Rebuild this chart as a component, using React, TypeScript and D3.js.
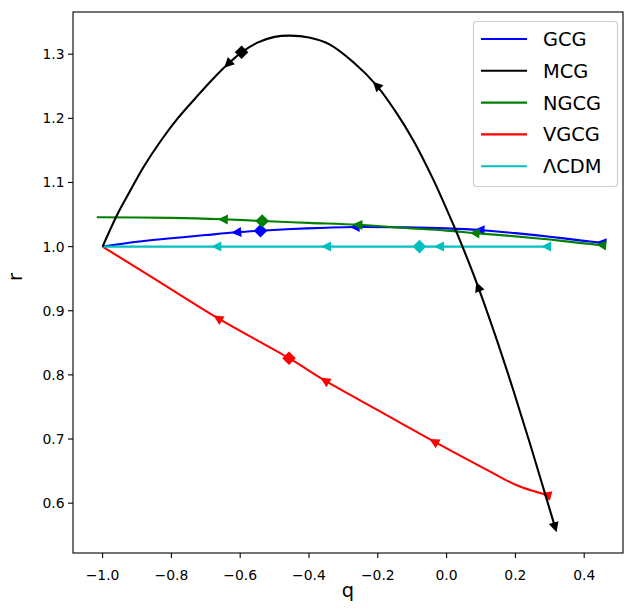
import React, { useRef, useEffect } from 'react';
import * as d3 from 'd3';

// q-r trajectories
const gcgQ = [-1.0, -0.9, -0.8, -0.7, -0.61, -0.541, -0.45, -0.35, -0.266, -0.12, 0.0, 0.097, 0.2, 0.3, 0.4, 0.451];
const gcgR = [1.0, 1.0075, 1.013, 1.018, 1.0223, 1.0248, 1.0275, 1.0295, 1.0306, 1.030, 1.0285, 1.026, 1.021, 1.0155, 1.009, 1.006];

const mcgQ = [-1.0, -0.96, -0.925, -0.88, -0.828, -0.78, -0.731, -0.68, -0.635, -0.596, -0.55, -0.5, -0.455, -0.4, -0.339, -0.27, -0.203, -0.15, -0.097, -0.04, 0.019, 0.05, 0.092, 0.14, 0.194, 0.24, 0.281, 0.315];
const mcgR = [1.0, 1.047, 1.082, 1.125, 1.167, 1.201, 1.231, 1.261, 1.285, 1.303, 1.318, 1.327, 1.329, 1.326, 1.315, 1.287, 1.251, 1.212, 1.166, 1.106, 1.035, 0.995, 0.937, 0.864, 0.776, 0.697, 0.624, 0.563];

const ngcgQ = [-1.017, -0.8, -0.649, -0.536, -0.4, -0.258, -0.12, 0.0, 0.083, 0.2, 0.3, 0.4, 0.451];
const ngcgR = [1.0457, 1.0448, 1.0426, 1.040, 1.037, 1.034, 1.029, 1.025, 1.021, 1.016, 1.011, 1.005, 1.0025];

const vgcgQ = [-1.0, -0.85, -0.664, -0.458, -0.353, -0.2, -0.036, 0.117, 0.16, 0.204, 0.247, 0.291];
const vgcgR = [1.0, 0.950, 0.888, 0.826, 0.791, 0.745, 0.696, 0.652, 0.6395, 0.628, 0.6197, 0.613];

const lcdmQ = [-1.0, 0.291];
const lcdmR = [1.0, 1.0];

// marker positions (q) along each curve
const gcgArrows = [-0.61, -0.266, 0.097, 0.451];
const mcgArrows = [-0.635, -0.203, 0.092, 0.315];
const ngcgArrows = [-0.649, -0.258, 0.083, 0.451];
const vgcgArrows = [-0.664, -0.353, -0.036, 0.291];
const lcdmArrows = [-0.668, -0.349, -0.021, 0.291];
const mcgArrowDir = [-1, -1, -1, 1];

const diamonds = [-0.541, -0.596, -0.536, -0.458, -0.079];

const names = ['GCG', 'MCG', 'NGCG', 'VGCG', 'ΛCDM'];
const colors = ['#0000ff', '#000000', '#008000', '#ff0000', '#00bfbf'];

const xTicks = [-1.0, -0.8, -0.6, -0.4, -0.2, 0.0, 0.2, 0.4];
const yTicks = [0.6, 0.7, 0.8, 0.9, 1.0, 1.1, 1.2, 1.3];

function App() {
  const ref = useRef(null);

  useEffect(() => {
    const svg = d3.select(ref.current);
    svg.selectAll('*').remove();

    const left = 73, right = 623, top = 12, bottom = 553;
    const font = 'DejaVu Sans, sans-serif';

    const x = d3.scaleLinear().domain([-1.086, 0.5128]).range([left, right]);
    const y = d3.scaleLinear().domain([0.5223, 1.3658]).range([bottom, top]);

    const series = [
      { q: gcgQ, r: gcgR, arrows: gcgArrows, dirs: [-1, -1, -1, -1] },
      { q: mcgQ, r: mcgR, arrows: mcgArrows, dirs: mcgArrowDir },
      { q: ngcgQ, r: ngcgR, arrows: ngcgArrows, dirs: [-1, -1, -1, -1] },
      { q: vgcgQ, r: vgcgR, arrows: vgcgArrows, dirs: [-1, -1, -1, -1] },
      { q: lcdmQ, r: lcdmR, arrows: lcdmArrows, dirs: [-1, -1, -1, -1] },
    ];

    const line = d3.line()
      .x(d => x(d[0]))
      .y(d => y(d[1]))
      .curve(d3.curveCatmullRom.alpha(0.5));

    // locate a point on a curve and its pixel-space direction
    function locate(s, qv) {
      let i = 0;
      while (i < s.q.length - 2 && qv > s.q[i + 1]) i++;
      const t = (qv - s.q[i]) / (s.q[i + 1] - s.q[i]);
      const rv = s.r[i] + t * (s.r[i + 1] - s.r[i]);
      const ang = Math.atan2(y(s.r[i + 1]) - y(s.r[i]), x(s.q[i + 1]) - x(s.q[i]));
      return { px: x(qv), py: y(rv), ang };
    }

    const order = [0, 2, 3, 4, 1];
    order.forEach(k => {
      const s = series[k];
      const g = svg.append('g');
      g.append('path')
        .attr('d', line(s.q.map((v, i) => [v, s.r[i]])))
        .attr('fill', 'none')
        .attr('stroke', colors[k])
        .attr('stroke-width', 2.1);

      s.arrows.forEach((qv, j) => {
        const p = locate(s, qv);
        const a = p.ang + (s.dirs[j] < 0 ? Math.PI : 0);
        const L = 10, w = 5;
        const pts = [[L * 0.55, 0], [-L * 0.45, w], [-L * 0.45, -w]].map(([u, v]) => [
          p.px + u * Math.cos(a) - v * Math.sin(a),
          p.py + u * Math.sin(a) + v * Math.cos(a),
        ]);
        g.append('path')
          .attr('d', 'M' + pts.map(d => d.join(',')).join('L') + 'Z')
          .attr('fill', colors[k]);
      });

      const d = locate(s, diamonds[k]);
      g.append('rect')
        .attr('x', -4.8).attr('y', -4.8)
        .attr('width', 9.6).attr('height', 9.6)
        .attr('transform', 'translate(' + d.px + ',' + d.py + ') rotate(45)')
        .attr('fill', colors[k]);
    });

    // frame
    svg.append('rect')
      .attr('x', left).attr('y', top)
      .attr('width', right - left).attr('height', bottom - top)
      .attr('fill', 'none').attr('stroke', '#000').attr('stroke-width', 1.1);

    // x ticks
    xTicks.forEach(t => {
      svg.append('line')
        .attr('x1', x(t)).attr('x2', x(t))
        .attr('y1', bottom).attr('y2', bottom + 5)
        .attr('stroke', '#000').attr('stroke-width', 1.1);
      svg.append('text')
        .attr('x', x(t)).attr('y', bottom + 26.5)
        .attr('text-anchor', 'middle')
        .attr('font-family', font).attr('font-size', 13.9)
        .text(t.toFixed(1).replace('-', '\u2212'));
    });

    // y ticks
    yTicks.forEach(t => {
      svg.append('line')
        .attr('x1', left - 5).attr('x2', left)
        .attr('y1', y(t)).attr('y2', y(t))
        .attr('stroke', '#000').attr('stroke-width', 1.1);
      svg.append('text')
        .attr('x', left - 8.5).attr('y', y(t) + 5)
        .attr('text-anchor', 'end')
        .attr('font-family', font).attr('font-size', 13.9)
        .text(t.toFixed(1));
    });

    svg.append('text')
      .attr('x', (left + right) / 2).attr('y', 597)
      .attr('text-anchor', 'middle')
      .attr('font-family', font).attr('font-size', 19.4)
      .text('q');

    svg.append('text')
      .attr('transform', 'translate(22,277) rotate(-90)')
      .attr('text-anchor', 'middle')
      .attr('font-family', font).attr('font-size', 19.4)
      .text('r');

    // legend
    const lg = svg.append('g');
    lg.append('rect')
      .attr('x', 473.5).attr('y', 21.5)
      .attr('width', 144).attr('height', 165)
      .attr('rx', 3)
      .attr('fill', '#fff').attr('fill-opacity', 0.8)
      .attr('stroke', '#cccccc').attr('stroke-width', 1.1);
    names.forEach((n, i) => {
      const cy = 39 + i * 31.8;
      lg.append('line')
        .attr('x1', 481).attr('x2', 527)
        .attr('y1', cy).attr('y2', cy)
        .attr('stroke', colors[i]).attr('stroke-width', 2.1);
      lg.append('text')
        .attr('x', 543).attr('y', cy + 7)
        .attr('font-family', font).attr('font-size', 19.4)
        .text(n);
    });
  }, []);

  return (
    <svg ref={ref} width={625} height={610}
      style={{ position: 'absolute', left: 0, top: 0, background: '#fff' }} />
  );
}

export default App;
